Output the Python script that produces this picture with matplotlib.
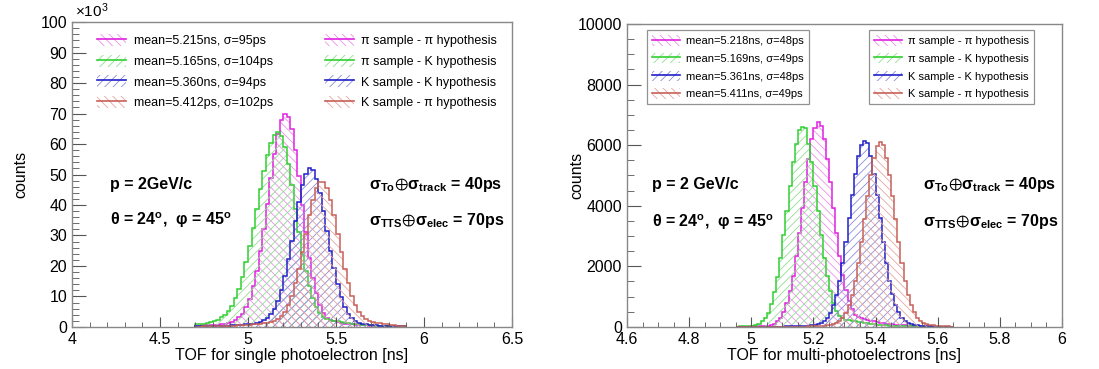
"""
TOF distributions for pi / K samples under pi / K hypotheses
  - left:  single photoelectron
  - right: multi-photoelectrons
"""
import matplotlib
matplotlib.use("Agg")
import matplotlib.pyplot as plt
import matplotlib.patches as mpatches
from matplotlib.lines import Line2D
from matplotlib.ticker import MultipleLocator
import numpy as np

plt.rcParams["font.family"] = ["Liberation Sans", "DejaVu Sans"]
plt.rcParams["mathtext.fontset"] = "custom"
plt.rcParams["mathtext.rm"] = "Liberation Sans"
plt.rcParams["mathtext.bf"] = "Liberation Sans:bold"
plt.rcParams["mathtext.it"] = "Liberation Sans:italic"
plt.rcParams["mathtext.default"] = "regular"
plt.rcParams["hatch.linewidth"] = 0.6

# ── data: single photoelectron (bin width 0.02 ns, counts in 1e3) ────────────
single_edges = np.round(np.arange(4.70, 5.9001, 0.02), 3)
single_pi_pi = [0.4, 0.45, 0.5, 0.55, 0.6, 0.65, 0.75, 0.9, 1.05, 1.3,
                1.7, 2.3, 3.1, 4.4, 6.4, 9.3, 13.3, 18.5, 24.9, 32.1,
                40.3, 48.8, 56.7, 63.3, 67.8, 70.0, 69.0, 64.9, 58.1, 49.5,
                40.1, 31.0, 22.7, 16.2, 11.0, 7.2, 4.7, 3.0, 2.3, 1.8,
                1.5, 1.25, 1.05, 0.9, 0.8, 0.7, 0.6, 0.55, 0.5, 0.45,
                0.4, 0.35, 0.3, 0.3, 0.25, 0.25, 0.2, 0.2, 0.15, 0.15]
single_pi_k = [0.85, 0.95, 1.1, 1.3, 1.5, 1.9, 2.4, 3.1, 4.0, 5.3,
               7.0, 9.4, 12.5, 16.4, 21.2, 26.6, 32.4, 38.8, 45.2, 51.2,
               56.5, 60.5, 63.1, 64.0, 62.7, 59.1, 53.5, 46.5, 38.8, 31.1,
               24.0, 18.2, 13.3, 9.4, 6.6, 4.7, 3.4, 2.7, 2.3, 2.0,
               1.8, 1.6, 1.4, 1.25, 1.1, 0.95, 0.85, 0.75, 0.65, 0.6,
               0.5, 0.45, 0.4, 0.35, 0.3, 0.3, 0.25, 0.2, 0.2, 0.15]
single_k_k = [0.15, 0.15, 0.2, 0.2, 0.25, 0.25, 0.3, 0.35, 0.4, 0.45,
              0.5, 0.55, 0.6, 0.7, 0.8, 0.95, 1.1, 1.35, 1.7, 2.2,
              3.0, 4.2, 6.0, 8.6, 12.2, 16.8, 22.3, 28.2, 34.8, 41.1,
              46.5, 50.2, 52.0, 51.4, 48.6, 44.0, 38.1, 31.6, 25.0, 19.2,
              14.1, 9.9, 6.7, 4.4, 2.9, 1.9, 1.4, 1.1, 0.85, 0.7,
              0.6, 0.5, 0.45, 0.4, 0.35, 0.3, 0.25, 0.25, 0.2, 0.2]
single_k_pi = [0.1, 0.1, 0.15, 0.15, 0.2, 0.2, 0.25, 0.25, 0.3, 0.35,
               0.4, 0.45, 0.5, 0.55, 0.6, 0.7, 0.8, 0.9, 1.0, 1.2,
               1.4, 1.7, 2.1, 2.7, 3.6, 5.0, 7.2, 10.3, 14.3, 19.1,
               24.6, 30.6, 36.6, 41.8, 45.7, 47.7, 47.7, 45.7, 41.8, 36.6,
               30.6, 24.6, 19.1, 14.3, 10.3, 7.2, 5.0, 3.6, 2.7, 2.1,
               1.7, 1.4, 1.15, 0.95, 0.8, 0.65, 0.55, 0.45, 0.4, 0.35]
single_labels = ["mean=5.215ns, σ=95ps", "mean=5.165ns, σ=104ps",
                 "mean=5.360ns, σ=94ps", "mean=5.412ps, σ=102ps"]

# ── data: multi-photoelectrons (bin width 0.01 ns, counts) ───────────────────
multi_edges = np.round(np.arange(4.95, 5.6501, 0.01), 3)
multi_pi_pi = [5, 6, 8, 10, 12, 15, 18, 22, 28, 35,
               45, 65, 110, 190, 310, 500, 780, 1170, 1690, 2340,
               3090, 3920, 4770, 5550, 6190, 6560, 6750, 6620, 6190, 5550,
               4770, 3920, 3090, 2340, 1730, 1230, 850, 580, 410, 320,
               280, 250, 225, 200, 180, 160, 140, 125, 110, 95,
               85, 75, 65, 55, 48, 42, 36, 31, 27, 23,
               20, 17, 15, 13, 11, 10, 9, 8, 7, 6]
multi_pi_k = [10, 15, 20, 25, 35, 45, 70, 110, 180, 290,
              475, 750, 1140, 1650, 2280, 3020, 3840, 4660, 5430, 6050,
              6500, 6600, 6560, 6050, 5430, 4660, 3840, 3020, 2280, 1680,
              1180, 800, 540, 370, 280, 240, 220, 200, 185, 170,
              150, 135, 120, 105, 90, 80, 70, 60, 50, 45,
              40, 35, 30, 27, 24, 21, 18, 16, 14, 12,
              11, 10, 9, 8, 7, 6, 6, 5, 5, 4]
multi_k_k = [2, 2, 3, 3, 3, 4, 4, 5, 5, 6,
             7, 8, 9, 10, 11, 13, 15, 17, 20, 23,
             27, 32, 38, 45, 55, 70, 90, 125, 190, 300,
             470, 720, 1060, 1530, 2120, 2820, 3580, 4350, 5060, 5640,
             6020, 6150, 6080, 5640, 5060, 4350, 3580, 2820, 2120, 1530,
             1080, 730, 480, 310, 200, 130, 90, 65, 50, 40,
             32, 26, 21, 17, 14, 12, 10, 9, 8, 7]
multi_k_pi = [1, 1, 1, 1, 1, 2, 2, 2, 2, 3,
              3, 3, 4, 4, 5, 5, 6, 7, 8, 9,
              10, 11, 13, 15, 18, 22, 27, 33, 40, 50,
              65, 85, 120, 190, 300, 470, 720, 1050, 1520, 2110,
              2790, 3550, 4310, 5020, 5590, 5970, 6100, 6020, 5590, 5020,
              4310, 3550, 2790, 2110, 1520, 1070, 720, 480, 310, 200,
              130, 90, 65, 50, 40, 32, 26, 21, 17, 14]
multi_labels = ["mean=5.218ns, σ=48ps", "mean=5.169ns, σ=49ps",
                "mean=5.361ns, σ=48ps", "mean=5.411ns, σ=49ps"]

hyp_labels = ["π sample - π hypothesis", "π sample - K hypothesis",
              "K sample - K hypothesis", "K sample - π hypothesis"]

# line colour, hatch colour, hatch pattern  (pi-pi, pi-K, K-K, K-pi)
line_colors = ["#e020e0", "#30d030", "#2020c8", "#c86058"]
hatch_colors = ["#ec90ec", "#90e090", "#8c8cdc", "#e4a8a0"]
hatches = ["\\\\\\\\", "////", "////", "\\\\\\\\"]


def draw_hists(ax, edges, series):
    for vals, lc, hc, h in zip(series, line_colors, hatch_colors, hatches):
        ax.stairs(vals, edges, fill=True, facecolor="none", edgecolor=hc,
                  hatch=h, linewidth=0)
        ax.stairs(vals, edges, color=lc, linewidth=1.1)


def legend_handles():
    out = []
    for lc, hc, h in zip(line_colors, hatch_colors, hatches):
        p = mpatches.Patch(facecolor="none", edgecolor=hc, hatch=h, linewidth=0)
        l = Line2D([], [], color=lc, lw=1.2)
        out.append((p, l))
    return out


def add_legends(ax, labels, x1, x2, y, frame, size, hl):
    kw = dict(loc="upper left", fontsize=size, handlelength=hl, handleheight=1.1,
              labelspacing=0.6, handletextpad=0.6, borderpad=0.45, borderaxespad=0,
              frameon=frame, fancybox=False, edgecolor="#777777")
    leg1 = ax.legend(legend_handles(), labels, bbox_to_anchor=(x1, y), **kw)
    leg1.get_frame().set_linewidth(0.9)
    ax.add_artist(leg1)
    leg2 = ax.legend(legend_handles(), hyp_labels, bbox_to_anchor=(x2, y), **kw)
    leg2.get_frame().set_linewidth(0.9)


def style_axes(ax):
    for s in ax.spines.values():
        s.set_color("#888888")
        s.set_linewidth(1.0)
    ax.tick_params(axis="both", which="both", direction="in", labelsize=11.5,
                   colors="#555555", labelcolor="black")
    ax.tick_params(axis="y", which="major", length=10)
    ax.tick_params(axis="y", which="minor", length=5)
    ax.tick_params(axis="x", which="major", length=7)
    ax.tick_params(axis="x", which="minor", length=3.5)


def add_notes(ax, x_left, x_right, y_top, y_bot, p_text):
    kw = dict(transform=ax.transAxes, fontsize=11.5, fontweight="bold", va="center")
    ax.text(x_left, y_top, p_text, **kw)
    ax.text(x_left, y_bot, r"$\theta$ = 24$^{\mathbf{o}}$,  $\varphi$ = 45$^{\mathbf{o}}$", **kw)
    ax.text(x_right, y_top, r"$\sigma_{\mathbf{To}}{\oplus}\sigma_{\mathbf{track}}$ = 40ps", **kw)
    ax.text(x_right, y_bot, r"$\sigma_{\mathbf{TTS}}{\oplus}\sigma_{\mathbf{elec}}$ = 70ps", **kw)


fig = plt.figure(figsize=(10.99, 3.69), dpi=100)

# ── left panel: single photoelectron ─────────────────────────────────────────
ax1 = fig.add_axes([0.0655, 0.114, 0.4004, 0.826])
draw_hists(ax1, single_edges, [single_pi_pi, single_pi_k, single_k_k, single_k_pi])
ax1.set_xlim(4, 6.5)
ax1.set_ylim(0, 100)
ax1.xaxis.set_major_locator(MultipleLocator(0.5))
ax1.xaxis.set_minor_locator(MultipleLocator(0.1))
ax1.yaxis.set_major_locator(MultipleLocator(10))
ax1.yaxis.set_minor_locator(MultipleLocator(2))
ax1.xaxis.set_major_formatter(plt.FuncFormatter(lambda v, p: f"{v:g}"))
style_axes(ax1)
ax1.set_xlabel("TOF for single photoelectron [ns]", fontsize=11.5, labelpad=1)
ax1.set_ylabel("counts", fontsize=11.5)
ax1.yaxis.set_label_coords(-0.098, 0.5)
fig.text(0.068, 0.955, r"$\times$10$^{3}$", fontsize=11)
add_legends(ax1, single_labels, 0.045, 0.562, 0.98, False, 9, 2.3)
add_notes(ax1, 0.086, 0.675, 0.466, 0.35, "p = 2GeV/c")

# ── right panel: multi-photoelectrons ────────────────────────────────────────
ax2 = fig.add_axes([0.5705, 0.114, 0.3958, 0.821])
draw_hists(ax2, multi_edges, [multi_pi_pi, multi_pi_k, multi_k_k, multi_k_pi])
ax2.set_xlim(4.6, 6.0)
ax2.set_ylim(0, 10000)
ax2.xaxis.set_major_locator(MultipleLocator(0.2))
ax2.xaxis.set_minor_locator(MultipleLocator(0.05))
ax2.yaxis.set_major_locator(MultipleLocator(2000))
ax2.yaxis.set_minor_locator(MultipleLocator(500))
ax2.xaxis.set_major_formatter(plt.FuncFormatter(lambda v, p: f"{v:g}"))
style_axes(ax2)
ax2.set_xlabel("TOF for multi-photoelectrons [ns]", fontsize=11.5, labelpad=1)
ax2.set_ylabel("counts", fontsize=11.5)
ax2.yaxis.set_label_coords(-0.099, 0.5)
add_legends(ax2, multi_labels, 0.046, 0.556, 0.98, True, 8.0, 2.5)
add_notes(ax2, 0.057, 0.68, 0.469, 0.347, "p = 2 GeV/c")

fig.savefig("out.png", dpi=100)
plt.close(fig)
